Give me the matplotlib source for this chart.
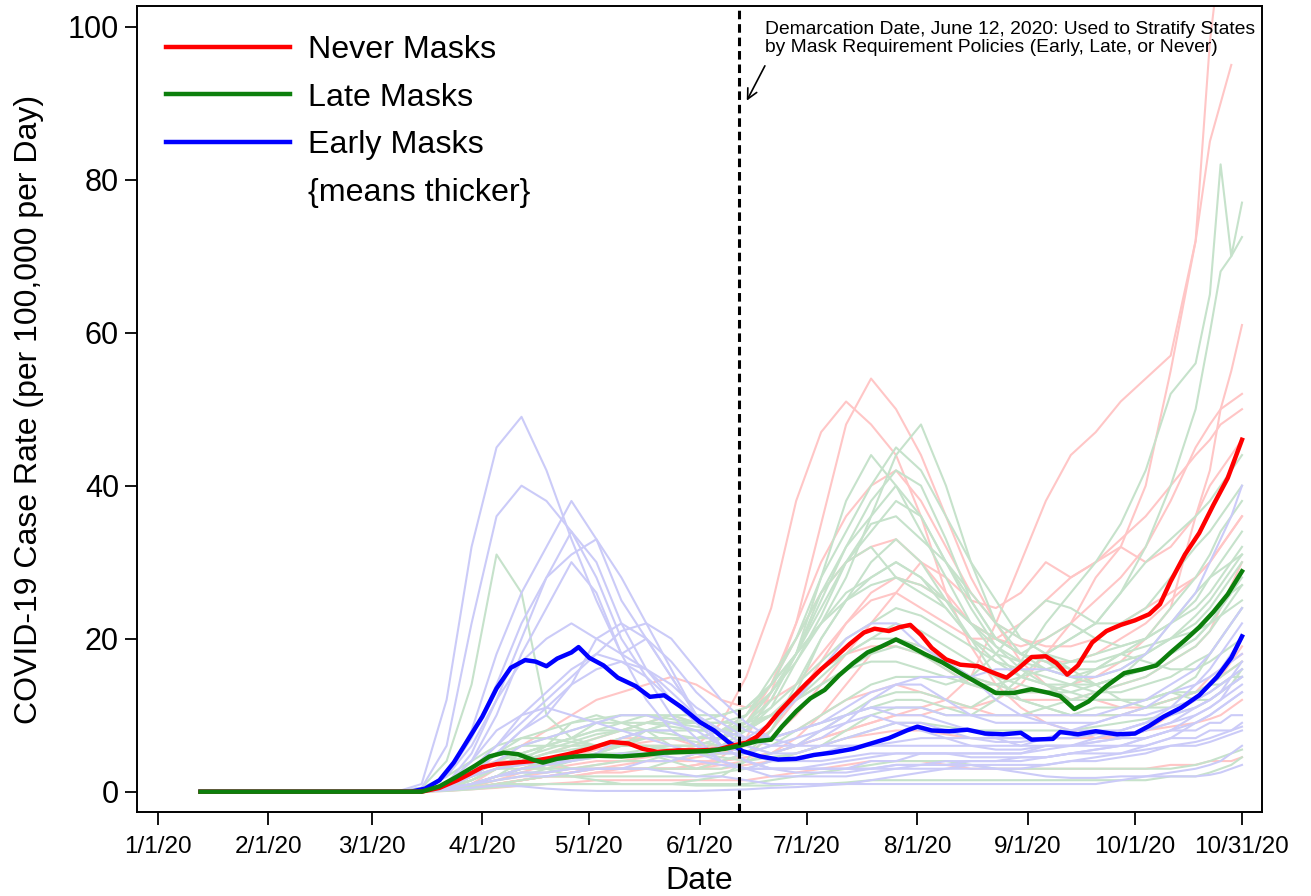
import numpy as np
import pandas as pd
import matplotlib
matplotlib.use("Agg")
import matplotlib.pyplot as plt
import matplotlib.dates as mdates
from matplotlib.lines import Line2D

plt.rcParams['font.family'] = ['Liberation Sans', 'DejaVu Sans']

# ---- group means (thick lines) ----
never_dates = ["2020-01-13", "2020-03-15", "2020-03-20", "2020-03-25", "2020-03-28", "2020-04-01",
               "2020-04-05", "2020-04-10", "2020-04-15", "2020-04-20", "2020-04-25", "2020-05-01",
               "2020-05-07", "2020-05-12", "2020-05-16", "2020-05-20", "2020-05-26", "2020-06-01",
               "2020-06-06", "2020-06-10", "2020-06-14", "2020-06-17", "2020-06-20", "2020-06-23",
               "2020-06-27", "2020-07-01", "2020-07-05", "2020-07-09", "2020-07-13", "2020-07-17",
               "2020-07-20", "2020-07-24", "2020-07-27", "2020-07-30", "2020-08-02", "2020-08-05",
               "2020-08-09", "2020-08-13", "2020-08-18", "2020-08-22", "2020-08-26", "2020-08-29",
               "2020-09-02", "2020-09-06", "2020-09-09", "2020-09-12", "2020-09-15", "2020-09-19",
               "2020-09-23", "2020-09-27", "2020-10-01", "2020-10-05", "2020-10-08", "2020-10-11",
               "2020-10-15", "2020-10-19", "2020-10-23", "2020-10-27", "2020-10-31"]
never_vals = [0, 0, 0.5, 1.5, 2.2, 3.2,
              3.6, 3.8, 4.0, 4.4, 4.9, 5.6,
              6.5, 6.3, 5.6, 5.2, 5.4, 5.4,
              5.5, 6.0, 6.4, 7.2, 8.6, 10.3,
              12.3, 14.2, 16.0, 17.6, 19.3, 20.8,
              21.3, 21.0, 21.5, 21.8, 20.5, 18.8,
              17.3, 16.6, 16.4, 15.6, 14.9, 16.0,
              17.6, 17.7, 16.8, 15.3, 16.5, 19.5,
              21.0, 21.8, 22.4, 23.2, 24.5, 27.5,
              31.0, 33.8, 37.5, 41.0, 46.0]

late_dates = ["2020-01-13", "2020-03-15", "2020-03-20", "2020-03-25", "2020-03-30", "2020-04-03",
              "2020-04-07", "2020-04-11", "2020-04-15", "2020-04-18", "2020-04-22", "2020-04-27",
              "2020-05-03", "2020-05-10", "2020-05-16", "2020-05-22", "2020-05-28", "2020-06-03",
              "2020-06-08", "2020-06-12", "2020-06-17", "2020-06-21", "2020-06-24", "2020-06-28",
              "2020-07-02", "2020-07-06", "2020-07-10", "2020-07-14", "2020-07-18", "2020-07-22",
              "2020-07-26", "2020-07-30", "2020-08-03", "2020-08-08", "2020-08-13", "2020-08-18",
              "2020-08-23", "2020-08-28", "2020-09-02", "2020-09-07", "2020-09-10", "2020-09-14",
              "2020-09-18", "2020-09-23", "2020-09-28", "2020-10-03", "2020-10-07", "2020-10-11",
              "2020-10-15", "2020-10-19", "2020-10-23", "2020-10-27", "2020-10-31"]
late_vals = [0, 0, 0.7, 2.0, 3.4, 4.6,
             5.1, 4.9, 4.2, 3.8, 4.3, 4.6,
             4.7, 4.6, 4.8, 5.1, 5.2, 5.3,
             5.6, 6.0, 6.6, 6.8, 8.5, 10.5,
             12.2, 13.3, 15.2, 16.8, 18.2, 19.0,
             19.9, 19.0, 18.0, 16.9, 15.5, 14.2,
             12.9, 12.9, 13.4, 12.9, 12.5, 10.8,
             11.8, 13.8, 15.5, 16.0, 16.5, 18.2,
             19.8, 21.5, 23.5, 25.8, 28.8]

early_dates = ["2020-01-13", "2020-03-12", "2020-03-16", "2020-03-20", "2020-03-24", "2020-03-28",
               "2020-04-01", "2020-04-05", "2020-04-09", "2020-04-13", "2020-04-16", "2020-04-19",
               "2020-04-22", "2020-04-26", "2020-04-28", "2020-05-01", "2020-05-05", "2020-05-09",
               "2020-05-14", "2020-05-18", "2020-05-22", "2020-05-27", "2020-06-01", "2020-06-05",
               "2020-06-09", "2020-06-13", "2020-06-18", "2020-06-23", "2020-06-28", "2020-07-03",
               "2020-07-08", "2020-07-14", "2020-07-19", "2020-07-24", "2020-07-29", "2020-08-01",
               "2020-08-05", "2020-08-10", "2020-08-15", "2020-08-20", "2020-08-25", "2020-08-30",
               "2020-09-02", "2020-09-08", "2020-09-10", "2020-09-15", "2020-09-20", "2020-09-26",
               "2020-10-01", "2020-10-05", "2020-10-09", "2020-10-14", "2020-10-19", "2020-10-24",
               "2020-10-28", "2020-10-31"]
early_vals = [0, 0, 0.4, 1.5, 3.8, 6.8,
              9.8, 13.5, 16.2, 17.2, 17.0, 16.4,
              17.4, 18.2, 18.9, 17.5, 16.5, 14.9,
              13.8, 12.4, 12.6, 11.0, 9.1, 8.0,
              6.5, 5.3, 4.6, 4.2, 4.3, 4.8,
              5.1, 5.6, 6.3, 7.0, 8.0, 8.5,
              8.0, 7.9, 8.1, 7.6, 7.5, 7.7,
              6.8, 6.9, 7.8, 7.5, 7.9, 7.5,
              7.6, 8.6, 9.8, 11.0, 12.6, 15.0,
              17.5, 20.3]

# ---- individual states (faint lines), weekly readings ----
state_dates = ["2020-01-13", "2020-03-08", "2020-03-15", "2020-03-22", "2020-03-29", "2020-04-05",
               "2020-04-12", "2020-04-19", "2020-04-26", "2020-05-03", "2020-05-10", "2020-05-17",
               "2020-05-24", "2020-05-31", "2020-06-07", "2020-06-14", "2020-06-21", "2020-06-28",
               "2020-07-05", "2020-07-12", "2020-07-19", "2020-07-26", "2020-08-02", "2020-08-09",
               "2020-08-16", "2020-08-23", "2020-08-30", "2020-09-06", "2020-09-13", "2020-09-20",
               "2020-09-27", "2020-10-04", "2020-10-11", "2020-10-18", "2020-10-22", "2020-10-25",
               "2020-10-28", "2020-10-31"]

early_states = [
    [0, 0, 1, 12, 32, 45, 49, 42, 33, 25, 18, 12, 8, 6, 4, 3, 3, 3, 3, 3,
     3, 3.5, 3.5, 3.5, 3.5, 3.5, 3.5, 3.5, 4, 4, 4.5, 5, 6, 6.5, 7, 7.5, 8, 8.5],
    [0, 0, 0.5, 6, 22, 36, 40, 38, 34, 30, 22, 16, 12, 9, 6, 4, 3, 3, 3, 3,
     3, 3.5, 3.5, 3.5, 4, 4, 4.5, 4.5, 5, 5.5, 6, 7, 8, 9, 10, 11, 12, 13],
    [0, 0, 0.3, 2, 8, 18, 26, 32, 38, 33, 25, 20, 15, 10, 6, 4, 3, 2.5, 2.5, 2.5,
     3, 3, 3.5, 4, 4, 4, 4, 4.5, 5, 5.5, 6, 7, 8, 10, 11, 12, 13, 14],
    [0, 0, 0.2, 2, 7, 14, 22, 28, 34, 28, 20, 15, 10, 7, 4, 3, 2, 2, 2, 2,
     2.5, 3, 3, 3, 3, 3, 3, 3.5, 4, 4.5, 5, 6, 7, 9, 10, 11, 12, 13],
    [0, 0, 0, 1, 5, 12, 20, 28, 31, 33, 28, 22, 16, 10, 6, 4, 3, 3, 3, 3,
     4, 4, 5, 5, 5, 5, 5, 6, 6, 7, 8, 9, 11, 14, 16, 18, 20, 22],
    [0, 0, 0, 1, 4, 10, 18, 24, 30, 26, 18, 20, 15, 10, 8, 6, 5, 6, 8, 10,
     11, 10, 10, 9, 8, 7, 7, 7, 7, 8, 8, 9, 10, 11, 12, 13, 14, 15],
    [0, 0, 0.2, 2, 6, 12, 17, 20, 22, 20, 18, 16, 13, 10, 8, 6, 5, 5, 6, 7,
     8, 9, 9, 8, 7, 7, 6, 6, 6, 6, 6, 6, 7, 7, 8, 8, 8, 9],
    [0, 0, 0, 1, 3, 6, 10, 13, 16, 18, 17, 16, 14, 11, 9, 7, 6, 6, 7, 9,
     12, 14, 14, 12, 10, 9, 9, 9, 9, 9, 10, 10, 11, 12, 13, 14, 15, 16],
    [0, 0, 0, 1, 3, 5, 8, 10, 14, 20, 22, 20, 17, 13, 10, 8, 7, 8, 9, 11,
     13, 14, 15, 15, 15, 16, 16, 16, 15, 15, 16, 18, 22, 26, 30, 33, 36, 40],
    [0, 0, 0, 0.2, 0.5, 0.8, 0.7, 0.4, 0.2, 0.1, 0.1, 0.1, 0.1, 0.1, 0.2, 0.3, 0.5, 0.6, 0.8, 1,
     1.5, 2, 2.5, 3, 3.5, 3, 2.5, 2, 1.8, 1.8, 2, 2, 2, 2, 2.2, 2.5, 3, 3.5],
    [0, 0, 0.1, 0.5, 1, 2, 2.5, 2.5, 3, 3, 3, 4, 4, 5, 6, 7, 9, 12, 16, 20,
     22, 22, 19, 17, 15, 12, 10, 9, 8, 8, 7, 7, 8, 8, 9, 9, 10, 10],
    [0, 0, 0.2, 1, 2, 3, 3.5, 4, 4, 5, 7, 8, 8, 6, 5, 5, 6, 7, 8, 9,
     10, 9, 8, 7, 6, 6, 6, 7, 8, 9, 10, 11, 13, 14, 15, 16, 17, 18],
    [0, 0, 0.1, 0.5, 1, 1.5, 2, 2, 2.5, 3, 3, 3, 2.5, 2, 2, 1.5, 1, 1, 1, 1,
     1, 1, 1, 1, 1, 1, 1, 1, 1, 1, 1.5, 2, 2.5, 3, 3.5, 4, 5, 6],
    [0, 0, 0.1, 1, 4, 8, 10, 11, 10, 9, 8, 7, 6, 5, 4, 3, 4, 4, 5, 6,
     6, 6, 6, 6, 6, 5.5, 5.5, 6, 6, 6.5, 7, 8, 9, 11, 12, 13, 15, 17],
    [0, 0, 0, 0.5, 2, 4, 6, 7, 8, 9, 10, 10, 9, 8, 6, 5, 4, 4, 4, 4.5,
     5, 5, 5, 5, 5, 5, 5, 5.5, 6, 6.5, 7, 8, 9, 10, 11, 12, 14, 15],
    [0, 0, 0, 0.3, 1, 2, 3, 3.5, 4, 4.5, 5, 5, 4.5, 4, 3.5, 3, 3, 3, 3.5, 4,
     4.5, 5, 5, 5, 4.5, 4.5, 4.5, 4.5, 5, 5, 5, 5.5, 6, 6, 6.5, 7, 7.5, 8],
    [0, 0, 0, 0.5, 2, 5, 8, 11, 14, 16, 17, 15, 12, 10, 8, 7, 7, 8, 9, 10,
     11, 11, 11, 10, 10, 10, 10, 10, 10, 10, 11, 12, 14, 16, 18, 20, 22, 24],
    [0, 0, 0.1, 1, 3, 6, 9, 12, 15, 18, 21, 22, 20, 16, 12, 9, 7, 6, 6, 6,
     6, 6.5, 7, 7, 7, 6.5, 6.5, 7, 7, 7.5, 8, 9, 10, 12, 14, 16, 18, 20],
]

late_states = [
    [0, 0, 0.5, 4, 14, 31, 26, 10, 7, 6, 7, 8, 8, 8, 8, 9, 12, 18, 28, 38,
     44, 40, 34, 28, 22, 18, 15, 14, 12, 12, 12, 12, 13, 12, 12, 13, 14, 15],
    [0, 0, 0.1, 1, 2, 4, 5, 6, 7, 9, 10, 10, 9, 9, 8, 9, 13, 18, 25, 32,
     38, 42, 40, 33, 25, 20, 18, 17, 15, 14, 15, 18, 22, 26, 28, 29, 30, 31],
    [0, 0, 0, 1, 2, 3, 3.5, 4, 4.5, 5, 6, 8, 9, 9, 10, 11, 14, 18, 22, 28,
     36, 40, 36, 30, 25, 20, 18, 20, 22, 20, 19, 20, 22, 25, 28, 30, 32, 34],
    [0, 0, 0.5, 2, 4, 6, 7, 7, 6.5, 6, 6, 6, 6, 6, 7, 8, 11, 17, 23, 30,
     35, 36, 33, 30, 26, 22, 20, 18, 16, 14, 12, 11, 11, 12, 13, 14, 15, 16],
    [0, 0, 0, 0.3, 1, 2, 2.5, 2.5, 3, 3.5, 4, 4, 5, 5, 6, 8, 12, 18, 26, 30,
     32, 28, 26, 24, 20, 17, 15, 14, 14, 13, 13, 14, 15, 17, 18, 20, 22, 24],
    [0, 0, 0, 1, 3, 5, 5, 4, 3, 3, 3, 3, 3, 3, 4, 5, 8, 13, 20, 25,
     30, 33, 30, 25, 20, 15, 12, 11, 10, 11, 11, 12, 13, 15, 18, 20, 22, 24],
    [0, 0, 0, 0.3, 0.8, 1.5, 2, 3, 4, 5, 5, 5, 4, 3, 3, 4, 5, 6, 8, 10,
     12, 13, 13, 12, 11, 13, 17, 22, 26, 30, 35, 42, 52, 56, 65, 82, 70, 77],
    [0, 0, 0, 0.2, 0.5, 1, 1.5, 2, 2, 2, 2, 2, 2, 2, 2.5, 3, 4, 5, 6, 8,
     10, 11, 11, 10, 10, 12, 15, 18, 20, 22, 26, 32, 40, 50, 60, 68, 70, 72.5],
    [0, 0, 0.2, 1, 2, 3, 3, 3, 3, 3, 3, 3, 4, 5, 7, 10, 15, 20, 26, 32,
     36, 44, 48, 40, 30, 22, 18, 16, 15, 16, 18, 17, 16, 16, 17, 18, 19, 20],
    [0, 0, 0.2, 1, 3, 5, 4, 3, 2, 1.5, 1, 1, 1, 1.5, 2, 4, 8, 14, 20, 25,
     28, 30, 28, 24, 20, 18, 17, 18, 20, 22, 26, 30, 33, 36, 38, 40, 42, 44],
    [0, 0, 0, 0.3, 1, 2, 4, 6, 9, 10, 9, 8, 6, 5, 5, 5, 6, 8, 10, 12,
     14, 15, 15, 14, 15, 18, 22, 25, 24, 22, 22, 24, 28, 32, 34, 36, 38, 40],
    [0, 0, 0, 0.2, 0.5, 1, 1, 1, 1, 1, 1, 1, 1, 1, 1, 1, 1.5, 2, 2.5, 3,
     3.5, 4, 4, 4, 3.5, 3, 3, 3, 3, 3, 3, 3, 3, 3.5, 4, 4.5, 5, 5.5],
    [0, 0, 0.1, 0.5, 1.5, 3, 4, 5, 5.5, 6, 6, 6, 5.5, 5, 4.5, 4, 4.5, 5, 6, 7,
     8, 9, 9, 8.5, 8, 8, 8, 8, 8, 8.5, 9, 9.5, 10, 11, 12, 13, 14, 16],
    [0, 0, 0, 0.5, 2, 4, 5, 6, 7, 8, 9, 10, 10, 9, 8, 8, 10, 12, 15, 18,
     20, 22, 21, 19, 17, 15, 14, 13, 13, 14, 15, 16, 18, 20, 22, 24, 26, 28],
    [0, 0, 0.1, 1, 3, 5, 6, 6, 6, 6, 7, 8, 9, 9, 9, 9, 10, 12, 14, 16,
     18, 19, 18, 16, 14, 13, 12, 11, 10, 10, 10, 11, 12, 13, 14, 15, 16, 17],
    [0, 0, 0, 0.5, 1.5, 3, 4, 5, 6, 7, 8, 9, 10, 10, 10, 11, 14, 20, 28, 34,
     40, 45, 42, 36, 30, 25, 20, 18, 17, 17, 18, 19, 20, 21, 22, 23, 24, 25],
    [0, 0, 0, 0.3, 1, 2, 3, 3.5, 4, 5, 6, 7, 7, 7, 8, 10, 14, 18, 22, 25,
     27, 28, 27, 25, 22, 20, 18, 17, 16, 16, 17, 18, 20, 22, 24, 26, 28, 30],
    [0, 0, 0, 0.1, 0.3, 0.6, 0.8, 1, 1, 1, 1, 1, 1, 0.8, 0.8, 0.8, 0.8, 1, 1, 1.2,
     1.5, 1.5, 1.5, 1.5, 1.5, 1.5, 1.5, 1.5, 1.5, 1.5, 1.5, 1.5, 2, 2, 2.5, 3, 3.5, 4.5],
    [0, 0, 0, 0.5, 2, 5, 7, 8, 9, 9.5, 10, 10, 9.5, 9, 9, 10, 13, 17, 22, 26,
     28, 30, 28, 25, 22, 19, 17, 16, 15, 15, 16, 18, 20, 23, 25, 27, 29, 31],
    [0, 0, 0.1, 0.8, 2.5, 5, 6, 7, 8, 9, 9, 9, 8.5, 8, 8, 9, 11, 14, 17, 20,
     22, 24, 23, 21, 19, 17, 16, 15, 14, 14, 15, 16, 18, 20, 22, 24, 26, 27],
    [0, 0, 0, 0.3, 1.5, 3, 5, 6, 7, 8, 8, 8, 7.5, 7, 7, 8, 10, 13, 16, 18,
     20, 20, 19, 17, 15, 14, 13, 13, 14, 16, 18, 20, 24, 28, 31, 34, 36, 38],
    [0, 0, 0, 0.2, 1, 2, 3, 4, 5, 6, 6.5, 7, 7, 6.5, 6, 6, 7, 8, 9, 10,
     11, 12, 12, 11, 10, 10, 10, 11, 12, 13, 14, 15, 17, 19, 21, 23, 25, 27],
    [0, 0, 0, 0.4, 1.5, 3, 4.5, 5.5, 6.5, 7.5, 8, 9, 9, 8.5, 8, 8.5, 10, 12, 14, 16,
     17, 17, 16, 15, 14, 14, 15, 16, 17, 18, 19, 20, 22, 24, 26, 28, 30, 32],
    [0, 0, 0, 0.3, 1, 2, 3, 3.5, 4, 4.5, 5, 5.5, 6, 6, 7, 9, 13, 18, 24, 30,
     34, 38, 36, 30, 24, 19, 16, 14, 13, 12, 12, 12, 13, 13, 14, 14, 15, 15],
]

never_states = [
    [0, 0, 0, 0.2, 0.8, 1.5, 2, 2.5, 3, 3.5, 4, 4.5, 5, 6, 9, 15, 24, 38, 47, 51,
     48, 44, 36, 26, 19, 14, 11, 9, 8, 7, 7, 8, 10, 12, 14, 15, 16, 17],
    [0, 0, 0.1, 1, 3, 4, 4, 3.5, 3, 3, 3, 3, 3, 3.5, 4.5, 7, 13, 22, 35, 48,
     54, 50, 44, 36, 28, 22, 17, 14, 12, 12, 11, 11, 12, 13, 15, 16, 17, 18],
    [0, 0, 0, 0.2, 0.5, 1, 1.5, 2, 2.5, 3, 3.5, 4, 4, 4, 4, 4.5, 5, 6, 7, 8,
     9, 10, 11, 12, 15, 22, 30, 38, 44, 47, 51, 54, 57, 72, 98, 110, 118, 124],
    [0, 0, 0, 0.2, 0.5, 1, 1.5, 2, 2, 2.5, 3, 3, 3, 3.5, 4, 4.5, 5, 6, 7, 8,
     9, 10, 10, 11, 11, 12, 14, 18, 22, 28, 32, 40, 55, 72, 85, 90, 95, np.nan],
    [0, 0, 0, 0.5, 2, 4, 6, 8, 10, 12, 13, 14, 15, 14, 12, 11, 12, 14, 18, 22,
     26, 28, 27, 25, 22, 20, 18, 17, 17, 18, 20, 22, 25, 28, 30, 32, 34, 36],
    [0, 0, 0, 0.3, 1, 3, 4, 5, 6, 7, 8, 9, 10, 9, 8, 10, 14, 20, 26, 30,
     32, 33, 30, 26, 22, 20, 19, 20, 22, 25, 28, 32, 38, 45, 48, 50, 51, 52],
    [0, 0, 0, 0.2, 1, 2, 3, 3, 3.5, 4, 4, 4, 4, 4.5, 5, 6, 8, 12, 17, 22,
     25, 26, 24, 22, 20, 20, 22, 25, 28, 30, 33, 36, 40, 44, 46, 48, 49, 50],
    [0, 0, 0, 0.2, 0.5, 1, 1.5, 2, 2, 2.5, 2.5, 3, 3, 3, 3.5, 4, 5, 7, 10, 14,
     18, 20, 19, 17, 15, 14, 13, 13, 14, 15, 17, 20, 24, 36, 42, 50, 55, 61],
    [0, 0, 0, 0.1, 0.3, 0.5, 0.8, 1, 1.2, 1.5, 1.5, 1.5, 1.5, 1.5, 1.5, 1.5, 2, 2.5, 3, 3.5,
     4, 4, 4, 3.5, 3, 3, 3, 3, 3, 3, 3, 3, 3.5, 3.5, 4, 4, 4, 4.5],
    [0, 0, 0, 0.3, 1, 2, 3, 4, 5, 6, 7, 7, 7, 6, 6, 6, 7, 8, 10, 12,
     13, 14, 13, 12, 11, 10, 10, 10, 10, 10, 10, 11, 12, 13, 14, 15, 17, 19],
    [0, 0, 0, 0.2, 0.8, 2, 3, 4, 5, 6, 6, 6, 6, 6, 7, 9, 14, 22, 30, 36,
     40, 42, 38, 32, 26, 22, 20, 19, 19, 20, 22, 24, 26, 28, 30, 32, 34, 36],
    [0, 0, 0, 0.2, 0.5, 1, 1.5, 2, 2.5, 3, 3, 3, 3, 3, 4, 5, 7, 10, 14, 18,
     22, 26, 30, 28, 25, 24, 26, 30, 28, 30, 32, 30, 32, 36, 40, 42, 44, 46],
    [0, 0, 0, 0.2, 0.6, 1.5, 2.5, 3.5, 4.5, 5.5, 6, 6.5, 7, 7, 7, 8, 10, 13, 16, 18,
     19, 19, 18, 16, 14, 13, 12, 12, 12, 13, 14, 15, 17, 19, 21, 24, 27, 30],
    [0, 0, 0, 0.1, 0.4, 1, 1.5, 2, 2.5, 3, 3, 3, 3, 3, 3, 3.5, 4, 5, 6, 7,
     7.5, 8, 8, 7.5, 7, 7, 7, 7, 7, 7, 7.5, 8, 8.5, 9, 9.5, 10, 11, 12],
]

tick_dates = ["2020-01-01", "2020-02-01", "2020-03-01", "2020-04-01", "2020-05-01", "2020-06-01",
              "2020-07-01", "2020-08-01", "2020-09-01", "2020-10-01", "2020-10-31"]
tick_labels = ["1/1/20", "2/1/20", "3/1/20", "4/1/20", "5/1/20", "6/1/20",
               "7/1/20", "8/1/20", "9/1/20", "10/1/20", "10/31/20"]
demarcation = "2020-06-12"

# ---- colours ----
c_never, c_late, c_early = "#ff0000", "#0c7f0c", "#0000ff"
f_never, f_late, f_early = "#ffc6c6", "#c6e2cb", "#cbcbf8"


def d(s):
    return mdates.date2num(pd.to_datetime(s))


fig = plt.figure(figsize=(13.11, 8.96), dpi=100)
ax = fig.add_axes([0.1045, 0.0938, 0.8581, 0.8995])

sx = [d(s) for s in state_dates]
for row in never_states:
    ax.plot(sx, row, color=f_never, lw=1.5, zorder=1)
for row in late_states:
    ax.plot(sx, row, color=f_late, lw=1.5, zorder=1)
for row in early_states:
    ax.plot(sx, row, color=f_early, lw=1.5, zorder=1)

ax.plot([d(s) for s in early_dates], early_vals, color=c_early, lw=3.2, zorder=3)
ax.plot([d(s) for s in never_dates], never_vals, color=c_never, lw=3.2, zorder=3)
ax.plot([d(s) for s in late_dates], late_vals, color=c_late, lw=3.2, zorder=3)

ax.axvline(d(demarcation), color="black", lw=2.2, linestyle=(0, (2.8, 1.6)), zorder=4)

ax.text(d("2020-06-19") + 0.4, 100.8,
        "Demarcation Date, June 12, 2020: Used to Stratify States\n"
        "by Mask Requirement Policies (Early, Late, or Never)",
        fontsize=13.9, va="top", ha="left", linespacing=1.15, zorder=5)
ax.annotate("", xy=(d("2020-06-14") - 0.2, 90.0), xytext=(d("2020-06-19") + 0.6, 95.2),
            arrowprops=dict(arrowstyle="->", lw=1.2, color="black", mutation_scale=18), zorder=5)

ax.set_xlim(d("2020-01-01") - 5.8, d("2020-01-01") + 309.6)
ax.set_ylim(-2.65, 102.7)
ax.set_xticks([d(s) for s in tick_dates])
ax.set_xticklabels(tick_labels)
ax.set_yticks([0, 20, 40, 60, 80, 100])
ax.tick_params(axis="y", labelsize=22, length=9, width=1.3, direction="out", pad=4)
ax.tick_params(axis="x", labelsize=17.5, length=9, width=1.3, direction="out", pad=8)
for sp in ax.spines.values():
    sp.set_linewidth(1.4)

ax.set_ylabel("COVID-19 Case Rate (per 100,000 per Day)", fontsize=23, labelpad=17)
ax.set_xlabel("Date", fontsize=23, labelpad=6)

handles = [Line2D([], [], color=c_never, lw=3.2),
           Line2D([], [], color=c_late, lw=3.2),
           Line2D([], [], color=c_early, lw=3.2),
           Line2D([], [], color="none", lw=0)]
ax.legend(handles, ["Never Masks", "Late Masks", "Early Masks", "{means thicker}"],
          loc="upper left", frameon=False, fontsize=23.2, handlelength=3.86,
          handletextpad=0.55, labelspacing=0.55, borderaxespad=0.5,
          bbox_to_anchor=(0.0, 1.0))

fig.savefig("out.png", dpi=100)
